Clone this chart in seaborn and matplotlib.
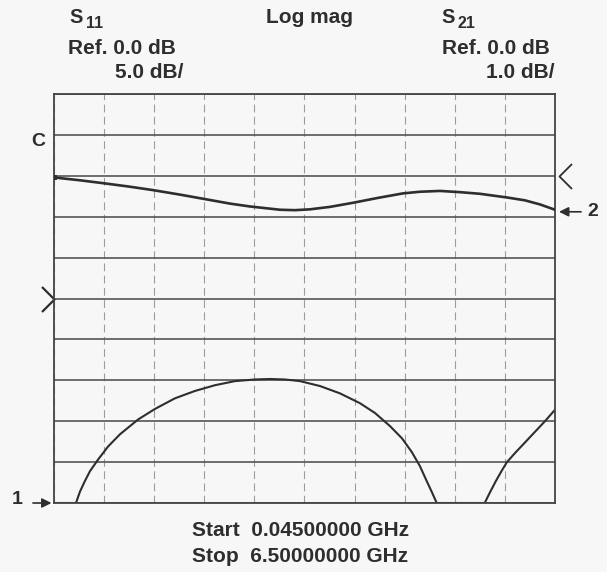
import pandas as pd
import numpy as np
import matplotlib.pyplot as plt
from matplotlib.path import Path
import seaborn as sns

# Sweep limits (GHz)
START_GHZ = 0.045
STOP_GHZ = 6.5
N_DIV = 10

# S11 trace (dB); values at -25 sit on the bottom graticule
s11_freq = [0.045, 0.328, 0.380, 0.444, 0.509, 0.612, 0.741, 0.895, 1.127, 1.346,
            1.604, 1.862, 2.119, 2.377, 2.635, 2.828, 3.021, 3.214, 3.472, 3.730,
            3.987, 4.181, 4.374, 4.529, 4.657, 4.760, 4.851, 4.915, 4.976, 5.594,
            5.662, 5.739, 5.817, 5.881, 5.984, 6.113, 6.242, 6.371, 6.500]
s11_db = [-25.0, -25.0, -23.6, -22.3, -21.1, -19.7, -18.1, -16.6, -14.8, -13.5,
          -12.2, -11.3, -10.6, -10.1, -9.9, -9.84, -9.9, -10.1, -10.7, -11.6,
          -12.8, -14.0, -15.6, -17.1, -18.8, -20.5, -22.4, -23.7, -25.0, -25.0,
          -23.7, -22.3, -21.0, -20.0, -18.9, -17.6, -16.3, -15.0, -13.6]

# S21 trace (dB)
s21_freq = [0.045, 0.380, 0.676, 0.998, 1.321, 1.668, 1.991, 2.313, 2.570, 2.764,
            2.957, 3.150, 3.343, 3.601, 3.897, 4.219, 4.541, 4.760, 5.018, 5.276,
            5.533, 5.881, 6.113, 6.307, 6.500]
s21_db = [-0.04, -0.11, -0.18, -0.26, -0.35, -0.46, -0.57, -0.68, -0.75, -0.79,
          -0.83, -0.84, -0.82, -0.76, -0.66, -0.54, -0.43, -0.39, -0.37, -0.40,
          -0.44, -0.53, -0.60, -0.70, -0.83]

# channel settings: reference value, dB/div, reference line (divisions from top)
s11_ref, s11_scale, s11_ref_div = 0.0, 5.0, 5
s21_ref, s21_scale, s21_ref_div = 0.0, 1.0, 2

INK = '#2e2e2e'
GRID = '#555555'
BG = '#f7f7f7'

sns.set_theme(style='white')
plt.rcParams['font.family'] = ['Liberation Sans', 'DejaVu Sans']

s11 = pd.DataFrame({'freq': s11_freq, 'db': s11_db})
s21 = pd.DataFrame({'freq': s21_freq, 'db': s21_db})

fig = plt.figure(figsize=(6.07, 5.72), dpi=100, facecolor=BG)
ax = fig.add_axes([54 / 607, 1 - 503 / 572, 501 / 607, 409 / 572])
ax.set_facecolor(BG)

def chan_lims(ref, scale, ref_div):
    top = ref + ref_div * scale
    return top - N_DIV * scale, top

ax.set_xlim(START_GHZ, STOP_GHZ)
ax.set_ylim(*chan_lims(s11_ref, s11_scale, s11_ref_div))
ax.set_xticks(np.linspace(START_GHZ, STOP_GHZ, N_DIV + 1))
ax.set_yticks(np.linspace(*chan_lims(s11_ref, s11_scale, s11_ref_div), N_DIV + 1))
ax.xaxis.grid(True, color='#9c9c9c', lw=0.8, ls=(0, (7, 4)))
ax.yaxis.grid(True, color=GRID, lw=1.2, ls='-')
ax.tick_params(length=0, labelbottom=False, labelleft=False)
for sp in ax.spines.values():
    sp.set_color('#444444')
    sp.set_linewidth(1.3)

sns.lineplot(data=s11, x='freq', y='db', ax=ax, color=INK, lw=1.5, sort=False)
ax.set_xlabel('')
ax.set_ylabel('')

ax2 = ax.twinx()
ax2.set_ylim(*chan_lims(s21_ref, s21_scale, s21_ref_div))
sns.lineplot(data=s21, x='freq', y='db', ax=ax2, color=INK, lw=1.9, sort=False,
             marker='s', markersize=3.5, markevery=[0], mec=INK)
ax2.set_ylabel('')
ax2.set_yticks([])
for sp in ax2.spines.values():
    sp.set_visible(False)
ax.set_xlabel('')

# reference line chevrons
chev_right = Path([(-1, 1), (0, 0), (-1, -1)], [Path.MOVETO, Path.LINETO, Path.LINETO])
chev_left = Path([(1, 1), (0, 0), (1, -1)], [Path.MOVETO, Path.LINETO, Path.LINETO])
ax.plot([0], [s11_ref], marker=chev_right, ms=18, mfc='none', mec=INK, mew=1.6,
        ls='none', transform=ax.get_yaxis_transform(), clip_on=False)
ax2.plot([1.008], [s21_ref], marker=chev_left, ms=18, mfc='none', mec=INK, mew=1.3,
         ls='none', transform=ax2.get_yaxis_transform(), clip_on=False)

arrow = dict(arrowstyle='-|>', color=INK, lw=1.2, mutation_scale=14, shrinkA=0, shrinkB=0)
ax.annotate('', xy=(-0.005, 0), xycoords='axes fraction', xytext=(-0.042, 0),
            textcoords='axes fraction', arrowprops=arrow)
ax.text(-0.073, 0.008, '1', transform=ax.transAxes, ha='center', va='center',
        fontsize=14, fontweight='bold', color=INK)
ax2.annotate('', xy=(1.008, -0.88), xycoords=ax2.get_yaxis_transform(), xytext=(1.052, -0.88),
             textcoords=ax2.get_yaxis_transform(), arrowprops=arrow)
ax2.text(1.075, -0.88, '2', transform=ax2.get_yaxis_transform(), ha='center', va='center',
         fontsize=14, fontweight='bold', color=INK)
ax.text(-0.032, 0.883, 'C', transform=ax.transAxes, ha='center', va='center',
        fontsize=14, fontweight='bold', color=INK)

# header and footer annotations (pixel positions of the screen)
def ftext(x, y, s, size=15, ha='left'):
    fig.text(x / 607, 1 - y / 572, s, ha=ha, va='baseline', fontsize=size,
             fontweight='bold', color=INK)

ftext(69, 23, 'S', 14.5)
ftext(86, 28, '11', 11.5)
ftext(310, 23, 'Log mag', 15, 'center')
ftext(441, 23, 'S', 14.5)
ftext(458, 28, '21', 11.5)
ftext(68, 54, 'Ref. 0.0 dB')
ftext(550, 54, 'Ref. 0.0 dB', ha='right')
ftext(183, 78, '5.0 dB/', ha='right')
ftext(555, 78, '1.0 dB/', ha='right')
ftext(192, 536, 'Start  0.04500000 GHz')
ftext(192, 562, 'Stop  6.50000000 GHz')

fig.savefig('out.png', dpi=100, facecolor=BG)
